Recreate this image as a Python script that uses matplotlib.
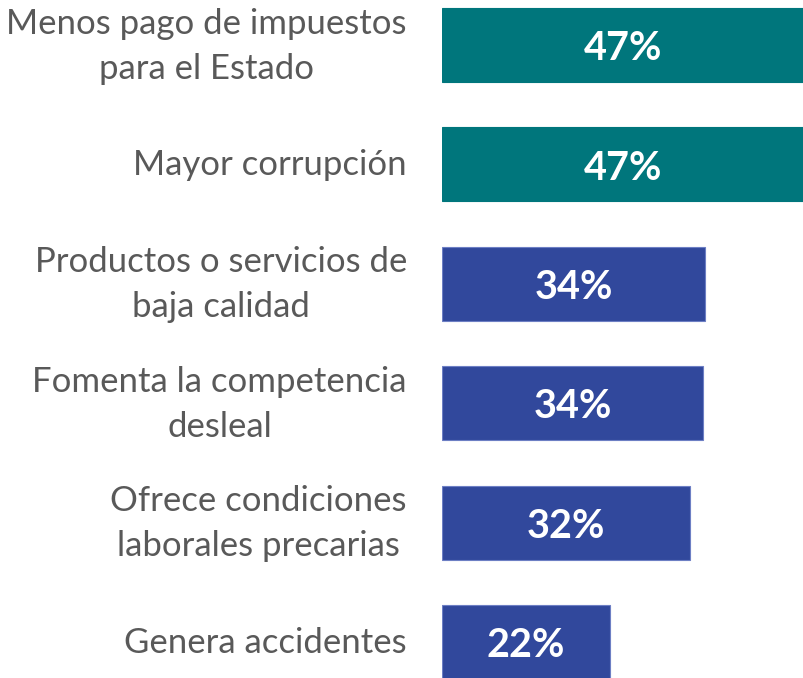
import matplotlib.pyplot as plt

categories = [
    "Menos pago de impuestos\npara el Estado",
    "Mayor corrupción",
    "Productos o servicios de\nbaja calidad",
    "Fomenta la competencia\ndesleal",
    "Ofrece condiciones\nlaborales precarias",
    "Genera accidentes",
]
values = [47.0, 46.9, 34.2, 33.9, 32.2, 21.8]
value_labels = ["47%", "47%", "34%", "34%", "32%", "22%"]
colors = ["#00767C", "#00767C", "#31489C", "#31489C", "#31489C", "#31489C"]
edges = ["#00767C", "#00767C", "#6D7FC4", "#6D7FC4", "#6D7FC4", "#6D7FC4"]

fig = plt.figure(figsize=(8.04, 6.78), dpi=100)
ax = fig.add_axes([442 / 804, 0, 362 / 804, 1])

ypos = list(range(len(categories)))
ax.barh(ypos, values, height=0.62, color=colors, edgecolor=edges, linewidth=0.8)

ax.set_xlim(0, 47.0)
ax.set_ylim(5.30, -0.377)
ax.axis("off")

for i, (cat, v, lab) in enumerate(zip(categories, values, value_labels)):
    # category label to the left of the bar
    ax.annotate(cat, xy=(0, i), xytext=(-35, -1), textcoords="offset pixels",
                ha="right", va="center", multialignment="center",
                fontsize=25, color="#595959", family="Lato",
                linespacing=1.5, annotation_clip=False)
    # value inside the bar
    ax.text(v / 2, i + 0.03, lab, ha="center", va="center", fontsize=28.5,
            color="white", fontweight="bold", family="Lato")

fig.savefig("out.png", dpi=100)
